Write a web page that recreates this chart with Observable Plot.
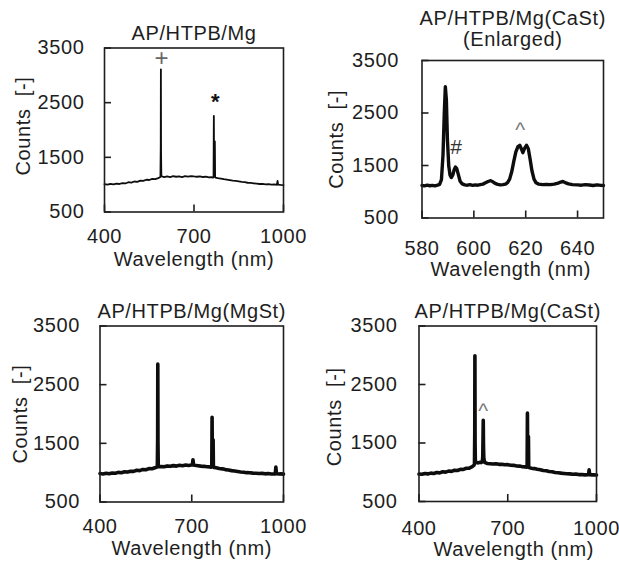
<!DOCTYPE html>
<html>
<head>
<meta charset="utf-8">
<script src="https://cdn.jsdelivr.net/npm/d3@7"></script>
<script src="https://cdn.jsdelivr.net/npm/@observablehq/plot@0.6"></script>
<style>
  body { margin: 0; background: #fff; }
  #wrap { position: relative; width: 619px; height: 569px; overflow: hidden; background: #fff; }
  .panel { position: absolute; width: 310px; height: 285px; }
</style>
</head>
<body>
<div id="wrap"></div>
<script>
// ---------- shared labels / ticks ----------
const yTicks = [500, 1500, 2500, 3500];
const xTicksWide = [400, 700, 1000];
const xTicksZoom = [580, 600, 620, 640];
const xLabel = "Wavelength (nm)";
const yLabel = "Counts  [-]";
const titleMg = "AP/HTPB/Mg";
const titleZoom = "AP/HTPB/Mg(CaSt)\n(Enlarged)";
const titleMgSt = "AP/HTPB/Mg(MgSt)";
const titleCaSt = "AP/HTPB/Mg(CaSt)";

// ---------- AP/HTPB/Mg ----------
const wlMg = [400,410,420,430,440,450,460,470,480,490,500,510,520,530,540,550,560,570,580,
  586,587.5,588.5,589,589.6,590.5,592,
  600,610,620,630,640,650,660,670,680,690,700,710,720,730,740,750,
  758,764,765.5,766.5,767.5,769,769.9,770.8,772,
  780,790,800,810,820,830,840,850,860,870,880,890,900,910,920,930,940,950,960,970,
  978,980,982,990,1000];
const cntMg = [1010,1000,1015,1005,1020,1012,1030,1022,1045,1038,1058,1052,1075,1068,1090,1085,1105,1100,1120,
  1135,1150,1700,3110,1600,1170,1150,
  1140,1150,1140,1155,1145,1150,1140,1155,1148,1158,1150,1145,1152,1140,1146,1135,
  1138,1130,1140,2260,1150,1140,1790,1140,1130,
  1120,1112,1100,1092,1085,1075,1068,1060,1050,1045,1035,1032,1025,1020,1012,1015,1005,1010,1000,1005,
  998,1070,1000,995,993];
const noteMgWl = [592.5, 772];
const noteMgCnt = [3320, 2510];
const noteMgText = ["+", "*"];

// ---------- AP/HTPB/Mg(CaSt) enlarged ----------
const wlZoom = [580,581,582,583,584,585,586,
  586.8,587.5,588.1,588.6,589,589.4,589.8,590.3,590.8,591.3,591.9,592.4,592.9,593.4,594,594.7,595.5,596.5,597.5,598.5,599.5,
  600.5,601.5,602.5,603.5,604.5,605.5,606.3,607.2,608.2,609.2,610.2,611.2,612.2,
  613,613.8,614.6,615.4,616.2,617,617.7,618.3,618.9,619.6,620.3,621,621.7,622.4,623.2,624,625,
  626.5,628,629.5,631,632.5,633.5,634.3,635.2,636.5,638,640,
  641.5,643,644.5,646,647.5,649,650];
const cntZoom = [1120,1112,1125,1115,1122,1112,1125,
  1140,1230,1700,2500,3000,2750,2000,1500,1320,1270,1320,1420,1470,1440,1330,1200,1150,1130,1125,1135,1122,
  1130,1125,1135,1145,1170,1195,1210,1195,1160,1140,1130,1135,1145,
  1175,1240,1380,1580,1760,1860,1885,1820,1745,1830,1885,1820,1620,1400,1240,1170,1145,
  1135,1140,1135,1145,1165,1185,1195,1175,1150,1135,1130,
  1125,1135,1128,1120,1132,1122,1120];
const noteZoomWl = [593.3, 618];
const noteZoomCnt = [1843, 2178];
const noteZoomText = ["#", "^"];

// ---------- AP/HTPB/Mg(MgSt) ----------
const wlMgSt = [400,410,420,430,440,450,460,470,480,490,500,510,520,530,540,550,560,570,580,
  586,587.5,588.5,589,589.6,590.5,592,
  600,610,620,630,640,650,660,670,680,690,
  698,702,704,706,710,
  720,730,740,750,
  758,764,765.5,766.5,767.5,769,769.9,770.8,772,
  780,790,800,810,820,830,840,850,860,870,880,890,900,910,920,930,940,950,960,970,
  973,975,977,985,990,1000];
const cntMgSt = [985,978,990,982,995,990,1005,1000,1015,1010,1025,1022,1040,1035,1055,1050,1070,1068,1085,
  1095,1110,1600,2850,1500,1120,1100,
  1105,1100,1115,1108,1120,1112,1125,1118,1130,1122,
  1130,1135,1220,1130,1125,
  1118,1112,1108,1100,
  1098,1095,1110,1945,1110,1110,1560,1100,1090,
  1085,1072,1065,1052,1045,1035,1028,1020,1012,1008,1000,998,992,990,985,988,980,985,978,982,
  980,1095,982,978,980,975];

// ---------- AP/HTPB/Mg(CaSt) ----------
const wlCaSt = [400,410,420,430,440,450,460,470,480,490,500,510,520,530,540,550,560,570,580,
  586,587.5,588.5,589,589.6,590.5,592,
  596,600,605,610,614,615.5,616.5,617.2,618,619,620.5,622,626,630,
  640,650,660,670,680,690,700,710,720,730,740,750,
  758,764,765.5,766.5,767.5,769,769.9,770.8,772,
  780,790,800,810,820,830,840,850,860,870,880,890,900,910,920,930,940,950,960,970,
  973,975,977,985,990,1000];
const cntCaSt = [970,965,978,972,985,980,995,990,1008,1002,1020,1015,1035,1030,1050,1048,1068,1070,1095,
  1120,1140,1700,2990,1490,1180,1170,
  1165,1160,1170,1165,1180,1260,1600,1890,1450,1250,1200,1170,1160,1150,
  1145,1140,1145,1135,1138,1128,1130,1120,1118,1108,1105,1095,
  1092,1085,1100,2010,1110,1100,1610,1090,1080,
  1070,1062,1050,1042,1030,1025,1012,1008,995,992,985,980,975,972,965,968,960,962,955,960,
  958,1040,960,955,958,952];
const noteCaStWl = [618];
const noteCaStCnt = [2036];
const noteCaStText = ["^"];

// ---------- drawing ----------
const FONT = "'Liberation Sans', Arial, sans-serif";
const INK = "#1e1e1e";

function makePanel(o) {
  const data = o.wl.map((w, i) => ({w, c: o.cnt[i]}));
  const notes = (o.noteWl || []).map((w, i) => ({w, c: o.noteCnt[i], t: o.noteText[i]}));
  const marks = [
    Plot.line(data, {x: "w", y: "c", stroke: "#0d0d0d", strokeWidth: o.sw, strokeLinejoin: "round", strokeLinecap: "round"}),
    Plot.frame({stroke: INK, strokeWidth: 1.6}),
    Plot.axisX({ticks: o.xTicks, tickSize: -7, tickPadding: o.xPad, tickFormat: d => String(d), label: null, stroke: INK, strokeWidth: 1.6, fill: INK}),
    Plot.axisY({ticks: yTicks, tickSize: -7, tickPadding: o.yPad, tickFormat: d => String(d), label: null, stroke: INK, strokeWidth: 1.6, fill: INK}),
    Plot.text([o.title], {frameAnchor: "top", textAnchor: "middle", lineAnchor: "bottom", dy: o.titleDy, lineHeight: 1.08, fill: INK}),
    Plot.text([xLabel], {frameAnchor: "bottom", textAnchor: "middle", lineAnchor: "bottom", dx: o.xLabDx || 0, dy: o.xLabDy, fill: INK}),
    Plot.text([yLabel], {frameAnchor: "left", textAnchor: "middle", lineAnchor: "top", rotate: -90, dx: o.yLabDx, dy: o.yLabDy || 0, fill: INK})
  ];
  for (const n of notes) {
    const st = {
      "+": {fontSize: 24, fill: "#666", fontWeight: "normal"},
      "*": {fontSize: 22, fill: "#111", fontWeight: "bold"},
      "#": {fontSize: 21, fill: "#333", fontWeight: "normal"},
      "^": {fontSize: 21, fill: "#777", fontWeight: "normal"}
    }[n.t];
    marks.push(Plot.text([n], {x: "w", y: "c", text: "t", textAnchor: "middle", lineAnchor: "middle", ...st}));
  }
  const svg = Plot.plot({
    width: 310, height: 285,
    marginLeft: o.m[0], marginRight: o.m[1], marginTop: o.m[2], marginBottom: o.m[3],
    style: {fontFamily: FONT, fontSize: "20px", letterSpacing: "0.6px", color: INK, background: "transparent", overflow: "visible"},
    x: {domain: o.xDomain},
    y: {domain: [500, 3500]},
    marks
  });
  const div = document.createElement("div");
  div.className = "panel";
  div.style.left = o.left + "px";
  div.style.top = o.top + "px";
  div.appendChild(svg);
  document.getElementById("wrap").appendChild(div);
}

makePanel({left: 0, top: 0, wl: wlMg, cnt: cntMg, xDomain: [400, 1000], xTicks: xTicksWide,
  title: titleMg, m: [104, 27, 47.5, 73.5], sw: 1.8, xPad: 24, yPad: 27,
  titleDy: -8.2, xLabDy: 53.7, yLabDx: -89, yLabDy: -4,
  noteWl: noteMgWl, noteCnt: noteMgCnt, noteText: noteMgText});

makePanel({left: 309, top: 0, wl: wlZoom, cnt: cntZoom, xDomain: [580, 650], xTicks: xTicksZoom,
  title: titleZoom, m: [112.5, 16, 60, 67.5], sw: 3.4, xPad: 29.5, yPad: 30,
  titleDy: -14.3, xLabDx: -2, xLabDy: 58.2, yLabDx: -93.2,
  noteWl: noteZoomWl, noteCnt: noteZoomCnt, noteText: noteZoomText});

makePanel({left: 0, top: 284, wl: wlMgSt, cnt: cntMgSt, xDomain: [400, 1000], xTicks: xTicksWide,
  title: titleMgSt, m: [99.5, 27, 41.5, 67.5], sw: 3.6, xPad: 24, yPad: 27,
  titleDy: -8.5, xLabDy: 53.3, yLabDx: -86.8});

makePanel({left: 309, top: 284, wl: wlCaSt, cnt: cntCaSt, xDomain: [400, 1000], xTicks: xTicksWide,
  title: titleCaSt, m: [109.5, 23, 41.5, 68], sw: 3.6, xPad: 26, yPad: 28.5,
  titleDy: -8.5, xLabDx: 6, xLabDy: 54.7, yLabDx: -91.8, yLabDy: 3,
  noteWl: noteCaStWl, noteCnt: noteCaStCnt, noteText: noteCaStText});
</script>
</body>
</html>
